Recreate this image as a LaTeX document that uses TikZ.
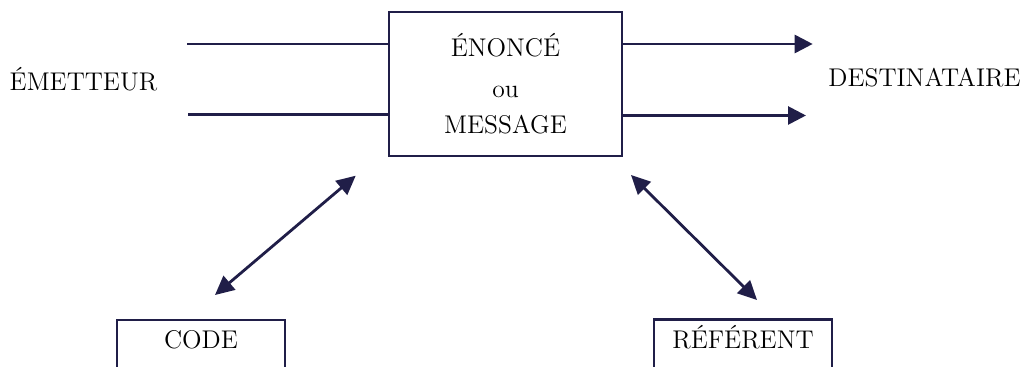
\documentclass[tikz,border=0pt]{standalone}
\usepackage{fontspec}
\usepackage{tikz}
\usetikzlibrary{arrows.meta}
\definecolor{ink}{RGB}{32,30,72}
\tikzset{
  link/.style={ink, line width=1.4pt},
  tip/.style={-{Triangle[length=9pt,width=9pt]}},
  both/.style={{Triangle[length=9.5pt,width=9pt]}-{Triangle[length=9.5pt,width=9pt]}},
  box/.style={draw=ink, line width=1.4pt, inner sep=0pt},
  word/.style={font=\fontsize{12.8}{15}\selectfont, inner sep=0pt, anchor=base}
}

\begin{document}
\begin{tikzpicture}[x=0.5pt,y=-0.5pt]
        \useasboundingbox (0,0) rectangle (1029,367);
        \clip (0,0) rectangle (1029,367);
        \node[box, minimum width=116.5pt, minimum height=72pt] (msg) at (505.5,84) {};
        \node[word] (enonce) at (505.5,56.7) {ÉNONCÉ};
        \node[word] (ou) at (505.5,98) {ou};
        \node[word] (message) at (505.5,133.3) {MESSAGE};
        \node[word] (emetteur) at (83.5,91) {ÉMETTEUR};
        \node[word] (destinataire) at (924.5,86.7) {DESTINATAIRE};
        \node[box, minimum width=84pt, minimum height=30pt] (code) at (201,350) {};
        \node[word] (codetext) at (201,348.3) {CODE};
        \node[box, minimum width=89pt, minimum height=30pt] (referent) at (743,349.5) {};
        \node[word] (referenttext) at (743,348.3) {RÉFÉRENT};
        \coordinate (src1) at (187,44);
        \coordinate (src2) at (188,114.5);
        \coordinate (dst1) at (812.7,44);
        \coordinate (dst2) at (806,115.5);
        \draw[link] (src1) -- (msg.west |- src1);
        \draw[link] (src2) -- (msg.west |- src2);
        \draw[link, tip] (msg.east |- dst1) -- (dst1);
        \draw[link, tip] (msg.east |- dst2) -- (dst2);
        \coordinate (codeend) at (215,295);
        \coordinate (msgcode) at (355.7,175.7);
        \coordinate (msgref) at (631,175);
        \coordinate (refend) at (757,300);
        \draw[link, both] (codeend) -- (msgcode);
        \draw[link, both] (msgref) -- (refend);
    \end{tikzpicture}
\end{document}
